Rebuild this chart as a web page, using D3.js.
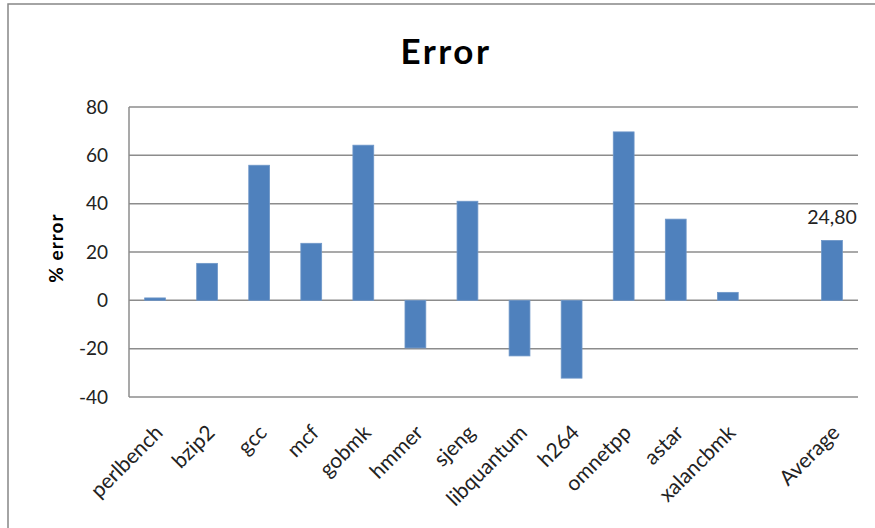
<!DOCTYPE html>
<html>
<head>
<meta charset="utf-8">
<script src="https://cdn.jsdelivr.net/npm/d3@7/dist/d3.min.js"></script>
<style>
  html, body { margin: 0; padding: 0; background: #fff; }
  svg { display: block; font-family: Lato, "Open Sans", sans-serif; }
</style>
</head>
<body>
<svg id="chart" width="875" height="528"></svg>
<script>
// Benchmarks (a blank slot separates the suite from the average)
const categories = ["perlbench", "bzip2", "gcc", "mcf", "gobmk", "hmmer", "sjeng",
  "libquantum", "h264", "omnetpp", "astar", "xalancbmk", "", "Average"];
const errorValues = [1.0, 15.3, 55.9, 23.6, 64.2, -19.7, 41.0,
  -23.0, -32.2, 69.7, 33.6, 3.3, null, 24.8];
const yTicks = [-40, -20, 0, 20, 40, 60, 80];
const averageLabel = "24,80";

const svg = d3.select("#chart");
const W = 875, H = 528;
const plot = { left: 129, right: 858, top: 107, bottom: 397 };

// outer chart frame
svg.append("rect")
  .attr("x", 8).attr("y", 4)
  .attr("width", W).attr("height", H)
  .attr("fill", "#fff").attr("stroke", "#878787").attr("stroke-width", 1.5);

const x = d3.scaleBand()
  .domain(categories.map((c, i) => i))
  .range([plot.left, plot.right])
  .paddingInner(0.6).paddingOuter(0.3);

const y = d3.scaleLinear().domain([-40, 80]).range([plot.bottom, plot.top]);

// horizontal gridlines
svg.append("g").selectAll("line").data(yTicks).join("line")
  .attr("x1", plot.left).attr("x2", plot.right)
  .attr("y1", d => y(d)).attr("y2", d => y(d))
  .attr("stroke", "#8c8c8c").attr("stroke-width", 1.5);

// vertical axis line
svg.append("line")
  .attr("x1", plot.left).attr("x2", plot.left)
  .attr("y1", y(80)).attr("y2", y(-40))
  .attr("stroke", "#8c8c8c").attr("stroke-width", 1.5);

// y tick labels (plain hyphen for negatives)
const yAxis = d3.axisLeft(y).tickValues(yTicks).tickSize(0).tickPadding(21)
  .tickFormat(d => String(d));
const gy = svg.append("g").attr("transform", `translate(${plot.left},0)`).call(yAxis);
gy.select(".domain").remove();
gy.selectAll("text")
  .attr("font-family", "Lato, sans-serif").attr("font-size", 19).attr("fill", "#222");

// bars
const bars = categories.map((c, i) => ({ i, c, v: errorValues[i] })).filter(d => d.v !== null);
svg.append("g").selectAll("rect").data(bars).join("rect")
  .attr("x", d => x(d.i))
  .attr("width", x.bandwidth())
  .attr("y", d => y(Math.max(0, d.v)))
  .attr("height", d => Math.abs(y(d.v) - y(0)))
  .attr("fill", "#4f81bd")
  .attr("stroke", "#6f97c8").attr("stroke-width", 0.8);

// value label on the average bar
const avgIdx = categories.indexOf("Average");
svg.append("text")
  .attr("x", x(avgIdx) + x.bandwidth() / 2)
  .attr("y", y(errorValues[avgIdx]) - 16)
  .attr("text-anchor", "middle")
  .attr("font-size", 19.5).attr("fill", "#222")
  .text(averageLabel);

// rotated category labels
svg.append("g").selectAll("text").data(categories.map((c, i) => ({ c, i })).filter(d => d.c))
  .join("text")
  .attr("transform", d => `translate(${x(d.i) + x.bandwidth() / 2 + 9},434) rotate(-45)`)
  .attr("text-anchor", "end")
  .attr("font-size", 21).attr("fill", "#222")
  .text(d => d.c);

// title
svg.append("text")
  .attr("x", 446).attr("y", 64)
  .attr("text-anchor", "middle")
  .attr("font-size", 35).attr("font-weight", "bold").attr("fill", "#000")
  .attr("letter-spacing", 2.5)
  .text("Error");

// y axis title
svg.append("text")
  .attr("transform", "translate(63,248) rotate(-90)")
  .attr("text-anchor", "middle")
  .attr("font-size", 19).attr("font-weight", "bold").attr("fill", "#000")
  .attr("letter-spacing", 1)
  .text("% error");
</script>
</body>
</html>
